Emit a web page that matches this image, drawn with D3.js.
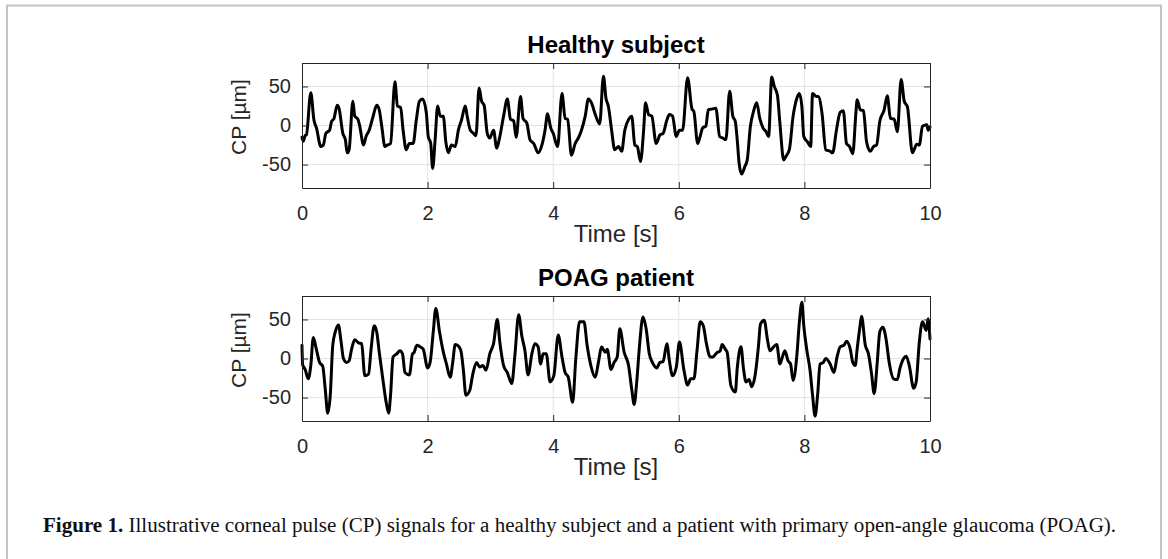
<!DOCTYPE html>
<html>
<head>
<meta charset="utf-8">
<script src="https://cdn.jsdelivr.net/npm/d3@7"></script>
<style>
  body { margin: 0; background: #fff; }
  svg { display: block; }
</style>
</head>
<body>
<script>

// healthy subject (time in s, CP in um)
var healthyTime = [0.00,0.02,0.05,0.07,0.14,0.19,0.23,0.30,0.34,0.38,0.44,0.47,0.51,0.56,0.59,0.65,0.69,0.72,0.75,0.81,0.84,0.89,0.92,0.98,
  1.02,1.07,1.13,1.19,1.23,1.27,1.32,1.36,1.41,1.48,1.52,1.57,1.61,1.66,1.71,1.77,1.82,1.87,1.92,1.98,
  2.01,2.05,2.08,2.12,2.16,2.20,2.25,2.29,2.33,2.38,2.44,2.49,2.54,2.60,2.63,2.68,2.73,2.77,2.82,2.86,2.90,2.95,2.99,
  3.05,3.10,3.14,3.21,3.27,3.32,3.37,3.41,3.48,3.52,3.58,3.63,3.69,3.76,3.82,3.87,3.91,3.96,
  4.00,4.07,4.14,4.19,4.23,4.29,4.35,4.40,4.45,4.51,4.56,4.61,4.67,4.74,4.80,4.84,4.88,4.93,4.98,
  5.04,5.09,5.14,5.21,5.25,5.30,5.34,5.39,5.44,5.47,5.52,5.57,5.64,5.70,5.75,5.81,5.85,5.90,5.96,
  6.01,6.06,6.14,6.21,6.24,6.30,6.34,6.38,6.43,6.47,6.52,6.59,6.65,6.70,6.75,6.81,6.86,6.90,6.93,6.96,
  7.00,7.05,7.09,7.14,7.19,7.24,7.29,7.34,7.39,7.43,7.48,7.52,7.57,7.61,7.67,7.71,7.76,7.82,7.88,7.92,7.96,7.99,
  8.05,8.10,8.13,8.19,8.22,8.28,8.34,8.41,8.45,8.51,8.57,8.62,8.67,8.72,8.77,8.82,8.84,8.89,8.94,8.99,
  9.05,9.10,9.15,9.20,9.27,9.32,9.37,9.43,9.48,9.54,9.59,9.64,9.72,9.79,9.83,9.88,9.95,9.97,10.00];
var healthyCP = [-15,-20,-13,-12,42,7,-3,-27,-25,-10,-6,5,9,26,22,-10,-18,-35,-31,31,12,8,-1,-25,
  -14,-6,11,26,20,-1,-27,-25,-23,56,25,23,-6,-31,-23,-23,7,31,34,16,
  -14,-23,-55,-18,25,12,12,-21,-35,-25,-27,-6,7,25,12,-6,-10,-13,48,31,26,-10,-16,
  -6,-29,-18,12,34,8,6,-15,37,9,3,-18,-23,-35,-25,-6,15,-3,
  -10,-27,41,9,8,-38,-23,-16,-6,12,34,29,14,2,63,35,24,-6,-31,
  -27,-33,-6,9,12,-25,-27,-46,-6,29,14,12,-23,-12,-10,7,14,12,-14,
  -6,-6,61,21,18,-23,-14,-3,-1,20,21,22,-14,-16,-18,44,12,5,-18,-48,
  -62,-53,-44,-1,18,29,9,-3,-8,-14,62,50,39,3,-44,-39,-31,12,35,41,24,-14,
  -21,-27,41,37,37,16,-31,-33,-35,-6,17,19,-23,-27,-36,16,33,20,19,-21,
  -33,-27,-25,5,20,38,9,8,-8,59,31,24,-35,-24,-25,-1,1,-6,-2];

// POAG patient
var poagTime = [0.00,0.01,0.05,0.10,0.14,0.18,0.22,0.28,0.33,0.37,0.41,0.45,0.49,0.53,0.58,0.62,0.66,0.71,0.75,0.79,0.84,0.90,0.95,
  1.00,1.06,1.10,1.15,1.19,1.23,1.29,1.34,1.38,1.41,1.45,1.51,1.56,1.60,1.64,1.71,1.76,1.78,1.83,1.88,1.93,
  2.00,2.04,2.09,2.13,2.19,2.24,2.30,2.36,2.40,2.44,2.49,2.53,2.57,2.61,2.67,2.72,2.78,2.83,2.88,2.93,2.99,
  3.05,3.11,3.15,3.21,3.27,3.34,3.39,3.45,3.50,3.55,3.60,3.66,3.71,3.76,3.80,3.84,3.89,3.95,
  4.01,4.08,4.14,4.19,4.24,4.31,4.36,4.42,4.49,4.54,4.60,4.67,4.72,4.77,4.83,4.86,4.92,4.97,
  5.02,5.06,5.13,5.20,5.25,5.29,5.33,5.37,5.43,5.48,5.53,5.58,5.65,5.70,5.75,5.81,5.85,5.90,5.96,
  6.01,6.08,6.14,6.19,6.24,6.29,6.34,6.39,6.44,6.50,6.54,6.60,6.66,6.69,6.74,6.77,6.83,6.90,6.93,6.99,
  7.03,7.07,7.12,7.16,7.21,7.27,7.30,7.36,7.41,7.45,7.51,7.56,7.61,7.65,7.69,7.74,7.78,7.82,7.88,7.92,7.96,7.99,
  8.04,8.09,8.13,8.17,8.21,8.25,8.30,8.34,8.41,8.47,8.52,8.57,8.63,8.67,8.73,8.77,8.81,8.84,8.88,8.91,8.97,
  9.02,9.07,9.11,9.16,9.20,9.25,9.30,9.35,9.42,9.48,9.52,9.58,9.62,9.67,9.74,9.78,9.83,9.88,9.94,9.97,10.00];
var poagCP = [17,-8,-14,-26,-9,27,15,-5,-10,-39,-70,-47,17,34,43,23,0,-5,-3,12,24,20,19,
  -22,-20,12,42,34,8,-28,-56,-70,-47,2,6,10,6,-18,-21,6,7,17,15,12,
  -12,-5,34,64,34,12,-7,-24,-5,18,16,10,-15,-47,-41,-20,-5,-11,-9,-15,6,
  19,50,21,-9,-18,-32,4,56,29,10,-21,6,19,15,-7,6,6,-30,
  -22,30,2,-18,-24,-56,0,47,47,17,-9,-24,-5,15,8,12,-14,-5,
  2,38,8,-9,-39,-59,-30,12,53,38,6,-5,-12,-5,-4,19,-3,-22,-11,
  21,-14,-34,-26,-26,10,47,42,19,2,2,7,10,18,12,8,-35,-43,-13,15,
  -13,-30,-27,-36,-24,17,44,49,25,10,15,18,-7,2,10,-3,-7,-28,4,47,72,42,
  10,-15,-47,-74,-47,-7,-5,0,-7,-18,2,15,17,22,12,-5,-9,12,38,54,17,
  6,-20,-45,-5,34,40,25,-5,-26,-27,-13,0,3,-9,-38,-30,21,47,36,51,25];

var xTicks = [0, 2, 4, 6, 8, 10];
var yTicks = [-50, 0, 50];
var panelTitles = ["Healthy subject", "POAG patient"];

var width = 1168;
var height = 559;
var axisColor = "#262626";

var svg = d3.select("body")
    .append("svg")
    .attr("width", width)
    .attr("height", height);

// light grey frame around the whole figure (bottom edge runs off the page)
svg.append("rect")
    .attr("x", 7)
    .attr("y", 5.5)
    .attr("width", 1154)
    .attr("height", 600)
    .attr("fill", "none")
    .attr("stroke", "#c4c4c4")
    .attr("stroke-width", 2);

function drawPanel(title, times, values, top){

    var box = {left: 302, right: 930, top: top, bottom: top + 125};

    var xScale = d3.scaleLinear()
        .domain([0, 10])
        .range([box.left, box.right]);

    var yScale = d3.scaleLinear()
        .domain([-80, 80])
        .range([box.bottom, box.top]);

    var g = svg.append("g");

    // grid lines
    g.append("g")
        .selectAll("line.vgrid")
        .data(xTicks.slice(1, -1))
        .join("line")
        .attr("x1", function(d){ return xScale(d); })
        .attr("x2", function(d){ return xScale(d); })
        .attr("y1", box.top)
        .attr("y2", box.bottom)
        .attr("stroke", "#e3e3e3")
        .attr("stroke-width", 1);

    g.append("g")
        .selectAll("line.hgrid")
        .data(yTicks)
        .join("line")
        .attr("x1", box.left)
        .attr("x2", box.right)
        .attr("y1", function(d){ return yScale(d); })
        .attr("y2", function(d){ return yScale(d); })
        .attr("stroke", "#e3e3e3")
        .attr("stroke-width", 1);

    // the signal
    var line = d3.line()
        .x(function(d, i){ return xScale(times[i]); })
        .y(function(d){ return yScale(d); })
        .curve(d3.curveMonotoneX);

    g.append("path")
        .datum(values)
        .attr("fill", "none")
        .attr("stroke", "#000")
        .attr("stroke-width", 3)
        .attr("stroke-linejoin", "round")
        .attr("stroke-linecap", "round")
        .attr("d", line);

    // axes, matlab style: ticks inward, box all round, plain hyphen minus
    var plain = function(d){ return String(d); };

    var xAxis = g.append("g")
        .attr("transform", "translate(0," + box.bottom + ")")
        .call(d3.axisBottom(xScale).tickValues(xTicks).tickFormat(plain).tickSizeInner(-6).tickSizeOuter(0).tickPadding(18));

    g.append("g")
        .attr("transform", "translate(0," + box.top + ")")
        .call(d3.axisTop(xScale).tickValues(xTicks).tickSizeInner(-6).tickSizeOuter(0).tickFormat(""));

    var yAxis = g.append("g")
        .attr("transform", "translate(" + box.left + ",0)")
        .call(d3.axisLeft(yScale).tickValues(yTicks).tickFormat(plain).tickSizeInner(-6).tickSizeOuter(0).tickPadding(11));

    g.append("g")
        .attr("transform", "translate(" + box.right + ",0)")
        .call(d3.axisRight(yScale).tickValues(yTicks).tickSizeInner(-6).tickSizeOuter(0).tickFormat(""));

    g.selectAll(".domain, .tick line")
        .attr("stroke", axisColor)
        .attr("stroke-width", 1);

    g.selectAll(".tick text")
        .attr("fill", axisColor)
        .style("font-family", "'Liberation Sans', Arial, sans-serif")
        .style("font-size", "20px");

    xAxis.selectAll(".tick text").attr("dy", "0.71em");

    // titles and labels
    g.append("text")
        .attr("x", (box.left + box.right) / 2)
        .attr("y", box.top - 10)
        .attr("text-anchor", "middle")
        .style("font-family", "'Liberation Sans', Arial, sans-serif")
        .style("font-weight", "bold")
        .style("font-size", "24px")
        .attr("fill", "#000")
        .text(title);

    g.append("text")
        .attr("x", (box.left + box.right) / 2)
        .attr("y", box.bottom + 54)
        .attr("text-anchor", "middle")
        .style("font-family", "'Liberation Sans', Arial, sans-serif")
        .style("font-size", "24px")
        .attr("fill", axisColor)
        .text("Time [s]");

    g.append("text")
        .attr("transform", "translate(246," + (box.top + 54) + ") rotate(-90)")
        .attr("text-anchor", "middle")
        .style("font-family", "'Liberation Sans', Arial, sans-serif")
        .style("font-size", "21px")
        .attr("fill", axisColor)
        .text("CP [µm]");
}

drawPanel(panelTitles[0], healthyTime, healthyCP, 63);
drawPanel(panelTitles[1], poagTime, poagCP, 296);

// caption below the figure
var caption = svg.append("text")
    .attr("x", 43)
    .attr("y", 532)
    .style("font-family", "'Liberation Serif', 'Times New Roman', serif")
    .style("font-size", "17px")
    .attr("fill", "#111");

caption.append("tspan")
    .style("font-weight", "bold")
    .text("Figure 1.");

caption.append("tspan")
    .text(" Illustrative corneal pulse (CP) signals for a healthy subject and a patient with primary open-angle glaucoma (POAG).");

// stretch font so the caption spans the same width as in the original
var natural = caption.node().getComputedTextLength();
var target = 1074;
caption.style("font-size", (17 * target / natural) + "px");

</script>
</body>
</html>
